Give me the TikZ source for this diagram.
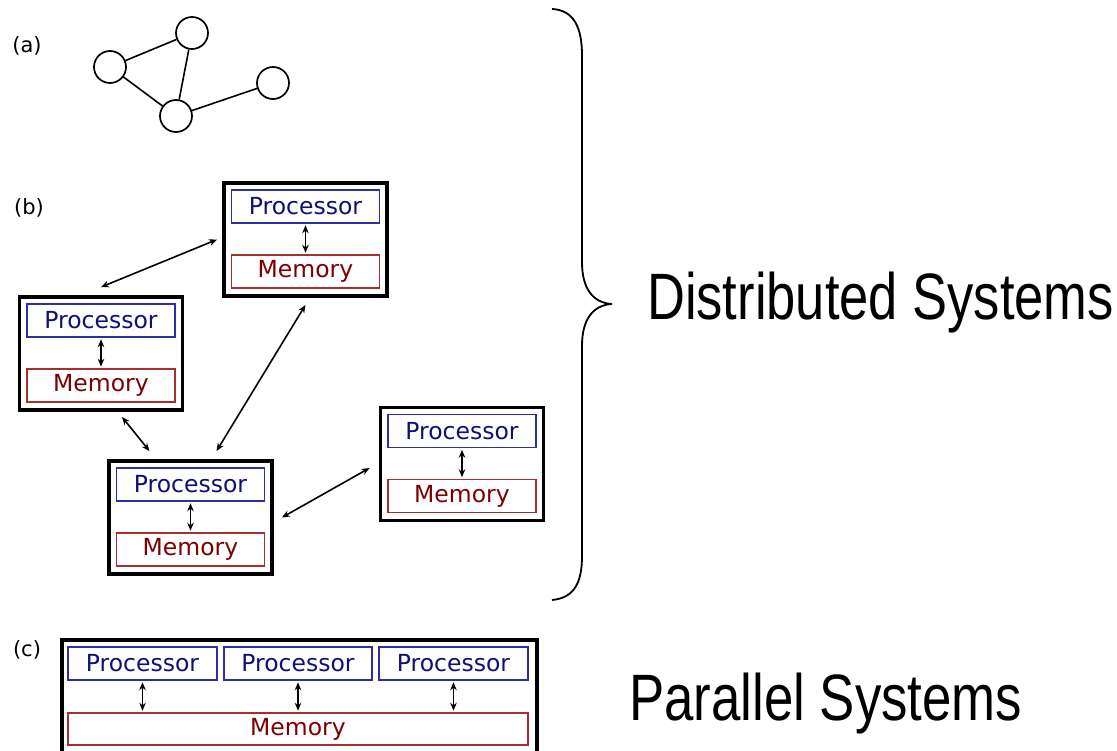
\documentclass[tikz,border=0pt]{standalone}
\usepackage{fontspec}
\usetikzlibrary{arrows.meta}
\newfontfamily\dvs{DejaVu Sans}
\newfontfamily\lib{Liberation Sans}
\definecolor{proct}{RGB}{15,15,120}
\definecolor{procb}{RGB}{45,45,170}
\definecolor{memt}{RGB}{125,0,0}
\definecolor{memb}{RGB}{170,45,45}
\newcommand\pmunit[3]{%
  \node[outerbox] (#1) at (#2,#3) {};
  \node[procbox] (#1p) at (#2,#3-33) {Processor};
  \node[membox] (#1m) at (#2,#3+32) {Memory};
  \draw[dbl] (#1p) -- (#1m);}
\begin{document}
\begin{tikzpicture}[x=1pt,y=-1pt,
  every node/.style={inner sep=0pt},
  nodec/.style={circle,draw,line width=1.7pt,minimum size=32pt},
  edge/.style={line width=1.6pt},
  outerbox/.style={draw,line width=3.8pt,minimum width=163pt,minimum height=113pt},
  procbox/.style={draw=procb,line width=1.5pt,text=proct,minimum width=148pt,minimum height=33pt,font=\dvs\fontsize{23.5}{27}\selectfont},
  membox/.style={draw=memb,line width=1.5pt,text=memt,minimum width=148pt,minimum height=33pt,font=\dvs\fontsize{23.5}{27}\selectfont},
  dbl/.style={{Stealth[length=8pt,width=6.5pt]}-{Stealth[length=8pt,width=6.5pt]},line width=1.6pt,shorten <=1.5pt,shorten >=1.5pt},
  lbl/.style={font=\dvs\fontsize{21}{24}\selectfont},
  big/.style={font=\lib\fontsize{65.6}{70}\selectfont,anchor=base west}]
\useasboundingbox (0,0) rectangle (1117,751);
\clip (0,0) rectangle (1117,751);
% (a)
\node[lbl] (la) at (27,46) {(a)};
\node[nodec] (c1) at (110,67) {};
\node[nodec] (c2) at (192,33) {};
\node[nodec] (c3) at (176,116) {};
\node[nodec] (c4) at (273,83) {};
\draw[edge] (c1) -- (c2);
\draw[edge] (c1) -- (c3);
\draw[edge] (c2) -- (c3);
\draw[edge] (c3) -- (c4);
% (b)
\node[lbl] (lb) at (29,208) {(b)};
\pmunit{B1}{305.5}{239.5}
\pmunit{B2}{101}{353.5}
\pmunit{B3}{190.5}{517.5}
\pmunit{B4}{462}{464}
\draw[dbl,shorten <=0pt,shorten >=0pt] ([yshift=8pt]B2.north) -- ([xshift=-5pt]B1.west);
\draw[dbl,shorten <=0pt,shorten >=0pt] ([yshift=-7pt]B1.south) -- ([shift={(26pt,8pt)}]B3.north);
\draw[dbl,shorten <=0pt,shorten >=0pt] ([shift={(21pt,-5pt)}]B2.south) -- ([shift={(-41pt,8pt)}]B3.north);
\draw[dbl,shorten <=0pt,shorten >=0pt] ([xshift=8pt]B3.east) -- ([shift={(-9pt,-4pt)}]B4.west);
% (c)
\node[lbl] (lc) at (27,650) {(c)};
\node[draw,line width=3.8pt,minimum width=475pt,minimum height=130pt,anchor=north west] (C) at (60,638) {};
\node[procbox,minimum width=149pt] (P1) at (142.5,663.5) {Processor};
\node[procbox,minimum width=148pt] (P2) at (298,663.5) {Processor};
\node[procbox,minimum width=149pt] (P3) at (453.5,663.5) {Processor};
\node[membox,minimum width=460pt,minimum height=32pt] (M) at (298,729) {Memory};
\coordinate (m1) at (P1.south |- M.north);
\coordinate (m2) at (P2.south |- M.north);
\coordinate (m3) at (P3.south |- M.north);
\draw[dbl] (P1.south) -- (m1);
\draw[dbl] (P2.south) -- (m2);
\draw[dbl] (P3.south) -- (m3);
% brace
\draw[line width=1.8pt] (552,9) .. controls (574,10) and (582,28) .. (582,55)
  -- (582,262) .. controls (582,290) and (594,303) .. (612,304)
  .. controls (594,305) and (582,318) .. (582,346)
  -- (582,556) .. controls (582,583) and (574,598) .. (552,600);
\node[big] (ds) at (647,320) {\scalebox{0.8}[1]{Distributed Systems}};
\node[big] (ps) at (629,720) {\scalebox{0.805}[1]{Parallel Systems}};
\end{tikzpicture}
\end{document}
